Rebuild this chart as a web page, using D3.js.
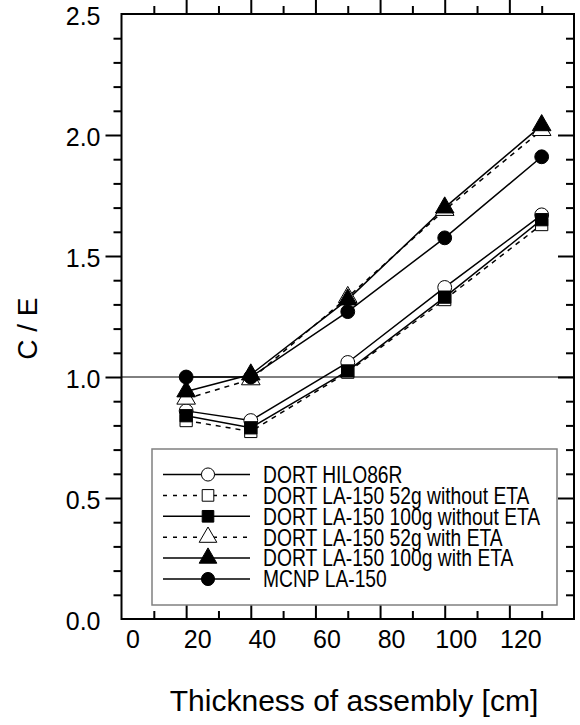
<!DOCTYPE html>
<html>
<head>
<meta charset="utf-8">
<script src="https://cdn.jsdelivr.net/npm/d3@7"></script>
<style>
body { margin: 0; background: #fff; }
svg text { font-family: "Liberation Sans", Arial, sans-serif; fill: #000; }
</style>
</head>
<body>
<svg id="chart"></svg>
<script>
var thickness = [20, 40, 70, 100, 130];

var hilo86r       = [0.86, 0.82, 1.06, 1.37, 1.67];
var la52NoEta     = [0.82, 0.775, 1.02, 1.32, 1.63];
var la100NoEta    = [0.84, 0.79, 1.025, 1.33, 1.65];
var la52Eta       = [0.91, 0.99, 1.33, 1.69, 2.02];
var la100Eta      = [0.94, 1.01, 1.32, 1.70, 2.04];
var mcnp          = [1.00, 1.00, 1.27, 1.575, 1.91];

var seriesNames = [
    "DORT HILO86R",
    "DORT LA-150 52g without ETA",
    "DORT LA-150 100g without ETA",
    "DORT LA-150 52g with ETA",
    "DORT LA-150 100g with ETA",
    "MCNP LA-150"
];

var xTickLabels = [0, 20, 40, 60, 80, 100, 120];
var yTickLabels = [0.0, 0.5, 1.0, 1.5, 2.0, 2.5];

var series = [
    {name: seriesNames[0], values: hilo86r,    symbol: d3.symbolCircle,   filled: false, dashed: false},
    {name: seriesNames[1], values: la52NoEta,  symbol: d3.symbolSquare,   filled: false, dashed: true},
    {name: seriesNames[2], values: la100NoEta, symbol: d3.symbolSquare,   filled: true,  dashed: false},
    {name: seriesNames[3], values: la52Eta,    symbol: d3.symbolTriangle, filled: false, dashed: true},
    {name: seriesNames[4], values: la100Eta,   symbol: d3.symbolTriangle, filled: true,  dashed: false},
    {name: seriesNames[5], values: mcnp,       symbol: d3.symbolCircle,   filled: true,  dashed: false}
];

var symbolSize = {};
symbolSize[d3.symbolCircle] = 180;
symbolSize[d3.symbolSquare] = 256;
symbolSize[d3.symbolTriangle] = 150;

var W = 580, H = 725,
    margin = {top: 14, right: 6, bottom: 106, left: 121.5};
var width = W - margin.left - margin.right,
    height = H - margin.top - margin.bottom;

var xScale = d3.scaleLinear().domain([0, 140]).range([0, width]);
var yScale = d3.scaleLinear().domain([0, 2.5]).range([height, 0]);

var svg = d3.select("#chart")
    .attr("width", W)
    .attr("height", H);

var g = svg.append("g")
    .attr("transform", "translate(" + margin.left + "," + margin.top + ")");

// reference line at C/E = 1
g.append("line")
    .attr("x1", 0).attr("x2", width)
    .attr("y1", yScale(1)).attr("y2", yScale(1))
    .attr("stroke", "#000").attr("stroke-width", 1);

// ticks (inward), major + minor on all four sides
function tickAxis(axisFn, values, size) {
    return axisFn.tickValues(values).tickSizeInner(-size).tickSizeOuter(0).tickFormat("");
}
var xMajor = d3.range(20, 140, 20), xMinor = d3.range(10, 140, 20);
var yMajor = d3.range(0.5, 2.5, 0.5);
var yMinor = d3.range(1, 25).filter(function(v) { return v % 5 !== 0; }).map(function(v) { return v / 10; });

function addTicks(axis, transform) {
    return g.append("g").attr("class", "ticks").attr("transform", transform).call(axis);
}
addTicks(tickAxis(d3.axisBottom(xScale), xMajor, 16), "translate(0," + height + ")");
addTicks(tickAxis(d3.axisBottom(xScale), xMinor, 8), "translate(0," + height + ")");
addTicks(tickAxis(d3.axisTop(xScale), xMajor, -16), "translate(0,0)");
addTicks(tickAxis(d3.axisTop(xScale), xMinor, -8), "translate(0,0)");
addTicks(tickAxis(d3.axisLeft(yScale), yMajor, -16), "translate(0,0)");
addTicks(tickAxis(d3.axisLeft(yScale), yMinor, -8), "translate(0,0)");
addTicks(tickAxis(d3.axisRight(yScale), yMajor, 16), "translate(" + width + ",0)");
addTicks(tickAxis(d3.axisRight(yScale), yMinor, 8), "translate(" + width + ",0)");

g.selectAll(".ticks .domain").remove();
g.selectAll(".ticks line").attr("stroke", "#000").attr("stroke-width", 2);

// frame
g.append("rect")
    .attr("x", 0).attr("y", 0)
    .attr("width", width).attr("height", height)
    .attr("fill", "none").attr("stroke", "#000").attr("stroke-width", 2);

// tick labels
g.append("g")
    .attr("transform", "translate(0," + height + ")")
    .call(d3.axisBottom(xScale).tickValues(xTickLabels).tickSize(0).tickFormat(d3.format("d")))
    .call(function(s) { s.select(".domain").remove(); })
    .selectAll("text")
    .attr("font-size", 25)
    .attr("font-family", "Liberation Sans, Arial, sans-serif")
    .attr("dx", 11)
    .attr("y", 29)
    .attr("dy", 0)
    .attr("text-anchor", "middle");

g.append("g")
    .call(d3.axisLeft(yScale).tickValues(yTickLabels).tickSize(0).tickFormat(d3.format(".1f")))
    .call(function(s) { s.select(".domain").remove(); })
    .selectAll("text")
    .attr("font-size", 25)
    .attr("font-family", "Liberation Sans, Arial, sans-serif")
    .attr("x", -21)
    .attr("dy", "0.4em");

// axis titles
svg.append("text")
    .attr("x", 354).attr("y", 711)
    .attr("text-anchor", "middle")
    .attr("font-size", 30)
    .text("Thickness of assembly [cm]");

svg.append("text")
    .attr("transform", "translate(37," + (margin.top + yScale(1.2)) + ") rotate(-90)")
    .attr("text-anchor", "middle")
    .attr("font-size", 28)
    .text("C / E");

// series
var line = d3.line()
    .x(function(d) { return xScale(d.x); })
    .y(function(d) { return yScale(d.y); });

series.forEach(function(s) {
    var pts = thickness.map(function(t, i) { return {x: t, y: s.values[i]}; });
    g.append("path")
        .datum(pts)
        .attr("d", line)
        .attr("fill", "none")
        .attr("stroke", "#000")
        .attr("stroke-width", 1.5)
        .attr("stroke-dasharray", s.dashed ? "5,5" : null);
});

series.forEach(function(s) {
    var pts = thickness.map(function(t, i) { return {x: t, y: s.values[i]}; });
    g.selectAll(null)
        .data(pts)
        .enter()
        .append("path")
        .attr("d", d3.symbol().type(s.symbol).size(symbolSize[s.symbol]))
        .attr("transform", function(d) { return "translate(" + xScale(d.x) + "," + yScale(d.y) + ")"; })
        .attr("fill", s.filled ? "#000" : "#fff")
        .attr("stroke", "#000")
        .attr("stroke-width", 1);
});

// legend
var legend = svg.append("g").attr("class", "legend");
legend.append("rect")
    .attr("x", 152).attr("y", 449)
    .attr("width", 405).attr("height", 156)
    .attr("fill", "#fff")
    .attr("stroke", "#808080")
    .attr("stroke-width", 1.5);

var rows = legend.selectAll(".row")
    .data(series)
    .enter()
    .append("g")
    .attr("class", "row")
    .attr("transform", function(d, i) { return "translate(0," + (474.5 + i * 20.9) + ")"; });

rows.append("line")
    .attr("x1", 163).attr("x2", 250)
    .attr("stroke", "#000").attr("stroke-width", 1.5)
    .attr("stroke-dasharray", function(d) { return d.dashed ? "4,6" : null; });

rows.append("path")
    .attr("d", function(d) { return d3.symbol().type(d.symbol).size(symbolSize[d.symbol] * 0.9)(); })
    .attr("transform", "translate(208,0)")
    .attr("fill", function(d) { return d.filled ? "#000" : "#fff"; })
    .attr("stroke", "#000").attr("stroke-width", 1);

// condensed legend text (no narrow font installed)
rows.append("text")
    .attr("transform", "translate(263,8.3) scale(0.82,1)")
    .attr("font-size", 23.5)
    .text(function(d) { return d.name; });
</script>
</body>
</html>
